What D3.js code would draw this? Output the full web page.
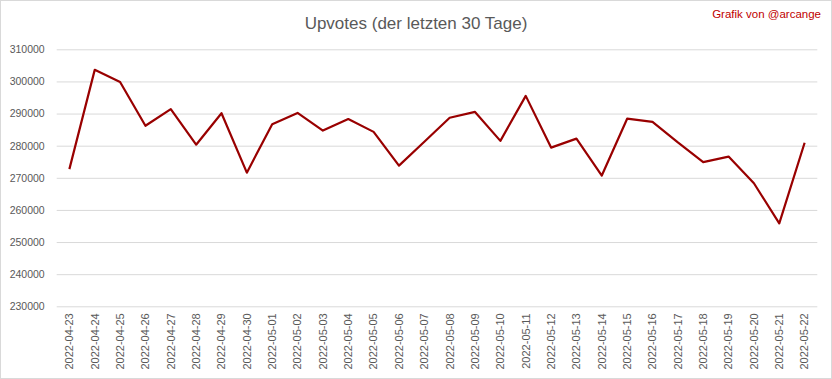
<!DOCTYPE html>
<html lang="de">
<head>
<meta charset="utf-8">
<title>Upvotes</title>
<script src="https://d3js.org/d3.v7.min.js"></script>
<style>
body { margin: 0; background: #fff; }
svg { display: block; }
</style>
</head>
<body>
<script>
// data
const dates = ["2022-04-23","2022-04-24","2022-04-25","2022-04-26","2022-04-27","2022-04-28","2022-04-29","2022-04-30",
  "2022-05-01","2022-05-02","2022-05-03","2022-05-04","2022-05-05","2022-05-06","2022-05-07","2022-05-08",
  "2022-05-09","2022-05-10","2022-05-11","2022-05-12","2022-05-13","2022-05-14","2022-05-15","2022-05-16",
  "2022-05-17","2022-05-18","2022-05-19","2022-05-20","2022-05-21","2022-05-22"];
const upvotes = [272700, 303600, 299800, 286200, 291400, 280300, 290100, 271600,
  286700, 290200, 284700, 288300, 284300, 273800, 281200, 288700,
  290500, 281500, 295500, 279400, 282200, 270700, 288400, 287400,
  281000, 274900, 276600, 268300, 255800, 280900];
const yTicks = [230000, 240000, 250000, 260000, 270000, 280000, 290000, 300000, 310000];

const width = 832, height = 379;
const plot = {left: 56.7, right: 817.3, top: 49.3, bottom: 306.3};

const svg = d3.select("body").append("svg")
  .attr("width", width)
  .attr("height", height);

svg.append("rect")
  .attr("x", 0.5).attr("y", 0.5)
  .attr("width", width - 1).attr("height", height - 1)
  .attr("fill", "#fff")
  .attr("stroke", "#d9d9d9");

const x = d3.scaleBand()
  .domain(dates)
  .range([plot.left, plot.right]);

const y = d3.scaleLinear()
  .domain([230000, 310000])
  .range([plot.bottom, plot.top]);

// gridlines + y labels
const yAxis = d3.axisLeft(y)
  .tickValues(yTicks)
  .tickSize(-(plot.right - plot.left))
  .tickPadding(12)
  .tickFormat(d3.format("d"));

svg.append("g")
  .attr("transform", "translate(" + plot.left + ",0)")
  .call(yAxis)
  .call(g => g.select(".domain").remove())
  .call(g => g.selectAll(".tick line").attr("stroke", "#d9d9d9"))
  .call(g => g.selectAll(".tick text")
    .attr("fill", "#595959")
    .attr("font-family", "'Liberation Sans', Arial, sans-serif")
    .attr("font-size", "10.5px"));

// x labels, rotated
const xAxis = d3.axisBottom(x).tickSize(0).tickPadding(0);
svg.append("g")
  .attr("transform", "translate(0," + plot.bottom + ")")
  .call(xAxis)
  .call(g => g.select(".domain").remove())
  .call(g => g.selectAll(".tick text")
    .attr("fill", "#595959")
    .attr("font-family", "'Liberation Sans', Arial, sans-serif")
    .attr("font-size", "11px")
    .attr("text-anchor", "end")
    .attr("dy", "0.35em")
    .attr("x", -7)
    .attr("y", 0)
    .attr("transform", "rotate(-90)"));

// line
const line = d3.line()
  .x((d, i) => x(dates[i]) + x.bandwidth() / 2)
  .y(d => y(d));

svg.append("path")
  .datum(upvotes)
  .attr("fill", "none")
  .attr("stroke", "#990000")
  .attr("stroke-width", 2.2)
  .attr("stroke-linejoin", "round")
  .attr("d", line);

// title
svg.append("text")
  .attr("x", 416).attr("y", 29)
  .attr("text-anchor", "middle")
  .attr("fill", "#595959")
  .attr("font-family", "'Liberation Sans', Arial, sans-serif")
  .attr("font-size", "17px")
  .text("Upvotes (der letzten 30 Tage)");

svg.append("text")
  .attr("x", 821).attr("y", 17.5)
  .attr("text-anchor", "end")
  .attr("fill", "#c00000")
  .attr("font-family", "'Liberation Sans', Arial, sans-serif")
  .attr("font-size", "11.5px")
  .text("Grafik von @arcange");
</script>
</body>
</html>
